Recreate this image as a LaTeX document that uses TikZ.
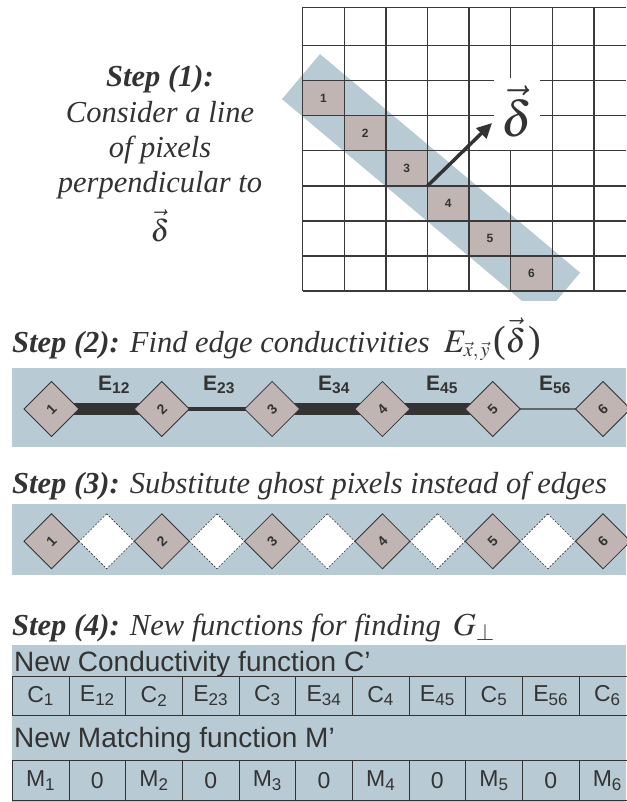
\documentclass[tikz,border=0pt]{standalone}
\usepackage{mathptmx}
\usepackage{fontspec}
\setmainfont{Liberation Serif}
\setsansfont{Liberation Sans}
\usetikzlibrary{arrows.meta}
\definecolor{panel}{HTML}{B8CBD5}
\definecolor{pix}{HTML}{C0B5B3}
\definecolor{ink}{HTML}{333333}
\definecolor{gridc}{HTML}{3A3A3A}
\pgfdeclarelayer{bg}
\pgfdeclarelayer{edges}
\pgfsetlayers{bg,edges,main}
\tikzset{
  titletext/.style={inner sep=0pt, text=ink, font=\fontsize{30.5}{36}\selectfont\itshape},
  pixlabel/.style={inner sep=0pt, text=ink, font=\sffamily\bfseries\fontsize{12}{14}\selectfont},
  dia/.style={draw=ink, line width=0.8pt, fill=pix, minimum size=38.9pt, inner sep=0pt, rotate=45,
              text=ink, font=\sffamily\bfseries\fontsize{14}{16}\selectfont},
  ghost/.style={draw=ink, line width=0.6pt, dash pattern=on 2pt off 1.5pt, fill=white,
              minimum size=38.9pt, inner sep=0pt, rotate=45},
  elabel/.style={inner sep=0pt, text=ink, font=\sffamily\bfseries\fontsize{21}{24}\selectfont},
  heavy/.style={draw=ink, line width=12pt},
  medium/.style={draw=ink, line width=3.5pt},
  light/.style={draw=gray!80!black, line width=1.5pt},
  cell/.style={draw=ink, line width=0.8pt, minimum width=56.67pt, minimum height=39.5pt, inner sep=0pt,
               text=ink, font=\sffamily\fontsize{23}{26}\selectfont},
  subhead/.style={inner sep=0pt, text=ink, font=\sffamily\fontsize{28}{32}\selectfont},
  gridline/.style={draw=gridc, line width=1.3pt},
}
\newcommand{\bigparen}[1]{\mbox{\fontsize{38}{40}\selectfont\upshape #1}}
\begin{document}
\begin{tikzpicture}[x=1pt,y=-1pt]
\useasboundingbox (0,0) rectangle (626,802);
\begin{pgfonlayer}{bg}
\fill[white] (0,0) rectangle (626,802);
\end{pgfonlayer}

% ---------------- Step 1 ----------------
\node[titletext, anchor=base] (s1a) at (160,87) {\textbf{Step (1):}};
\node[titletext, anchor=base] (s1b) at (160,123) {Consider a line};
\node[titletext, anchor=base] (s1c) at (160,158) {of pixels};
\node[titletext, anchor=base] (s1d) at (160,193) {perpendicular to};
\node[titletext, anchor=base] (s1e) at (160,241) {$\vec{\delta}$};

% band (clipped at its lower end)
\begin{scope}
\clip (270,40) rectangle (626,300);
\fill[panel] (320,54.1) -- (282,99.2) -- (542.1,317.8) -- (580.1,272.7) -- cycle;
\end{scope}
% shaded pixels
\foreach \k in {0,...,5} {
  \fill[pix] ({302.7+41.6*\k},{80.75+35.05*\k}) rectangle ++(41.6,35.05);
}
% grid
\foreach \k in {0,...,7} {
  \draw[gridline] ({302.7+41.6*\k},7.3) -- ({302.7+41.6*\k},291);
}
\draw[gridline] (302.7,7.3) -- (626,7.3);
\foreach \k in {0,...,7} {
  \draw[gridline] (302.7,{45.7+35.05*\k}) -- (626,{45.7+35.05*\k});
}
\foreach \k/\n in {0/1,1/2,2/3,3/4,4/5,5/6} {
  \node[pixlabel] (p\n) at ({302.7+41.6*\k+20.8},{80.75+35.05*\k+17.5}) {\n};
}
% delta label with white background
\fill[white] (494,78) rectangle (540,150);
\node[inner sep=0pt, text=ink, anchor=base, font=\fontsize{50}{60}\selectfont] (dl) at (517,137) {$\vec{\delta}$};
\coordinate (ar0) at (427.5,185.9);
\coordinate (ar1) at (492,123);
\draw[ink, line width=3.5pt, -{Triangle[length=15pt,width=14pt]}] (ar0) -- (ar1);

% ---------------- Step 2 ----------------
\node[titletext, anchor=base west] (t2) at (12,352)
  {\textbf{Step (2):} Find edge conductivities\hspace{14pt}{\fontsize{33}{36}\selectfont$E_{\mbox{\fontsize{20}{20}\selectfont$\vec{x},\vec{y}$}}\hspace{3pt}\bigparen{(}\vec{\delta}\hspace{2pt}\bigparen{)}$}};
\begin{pgfonlayer}{bg}
\fill[panel] (12.3,368.3) rectangle (626,446.7);
\end{pgfonlayer}
\foreach \k in {1,...,6} {
  \node[dia] (a\k) at ({51.5+110.3*(\k-1)},409) {\k};
}
\begin{pgfonlayer}{edges}
\draw[heavy] (a1.center) -- (a2.center);
\draw[medium] (a2.center) -- (a3.center);
\draw[heavy] (a3.center) -- (a4.center);
\draw[heavy] (a4.center) -- (a5.center);
\draw[light] (a5.center) -- (a6.center);
\end{pgfonlayer}
\node[elabel, anchor=base] (e12) at (114,390) {E\textsubscript{12}};
\node[elabel, anchor=base] (e23) at (219,390) {E\textsubscript{23}};
\node[elabel, anchor=base] (e34) at (334,390) {E\textsubscript{34}};
\node[elabel, anchor=base] (e45) at (442,390) {E\textsubscript{45}};
\node[elabel, anchor=base] (e56) at (555,390) {E\textsubscript{56}};

% ---------------- Step 3 ----------------
\node[titletext, anchor=base west] (t3) at (12,493)
  {\textbf{Step (3):} Substitute ghost pixels instead of edges};
\begin{pgfonlayer}{bg}
\fill[panel] (12.3,504.3) rectangle (626,575);
\end{pgfonlayer}
\foreach \k in {1,...,5} {
  \node[ghost] (w\k) at ({51.5+110.3*(\k-1)+55.15},541.3) {};
}
\foreach \k in {1,...,6} {
  \node[dia] (g\k) at ({51.5+110.3*(\k-1)},541.3) {\k};
}

% ---------------- Step 4 ----------------
\node[titletext, anchor=base west] (t4) at (12,635)
  {\textbf{Step (4):} New functions for finding\hspace{12pt}{\fontsize{32}{36}\selectfont$G_{\perp}$}};
\begin{pgfonlayer}{bg}
\fill[panel] (12.3,645) rectangle (626,802);
\end{pgfonlayer}
\node[subhead, anchor=base west] (h1) at (14,671) {New Conductivity function C’};
\node[subhead, anchor=base west] (h2) at (14,747) {New Matching function M’};
\foreach \t [count=\i from 0] in {C\textsubscript{1},E\textsubscript{12},C\textsubscript{2},E\textsubscript{23},C\textsubscript{3},E\textsubscript{34},C\textsubscript{4},E\textsubscript{45},C\textsubscript{5},E\textsubscript{56},C\textsubscript{6}} {
  \node[cell] (c\i) at ({12.3+56.67*(\i+0.5)},696) {\t};
}
\foreach \t [count=\i from 0] in {M\textsubscript{1},0,M\textsubscript{2},0,M\textsubscript{3},0,M\textsubscript{4},0,M\textsubscript{5},0,M\textsubscript{6}} {
  \node[cell] (m\i) at ({12.3+56.67*(\i+0.5)},780.5) {\t};
}
\end{tikzpicture}
\end{document}
